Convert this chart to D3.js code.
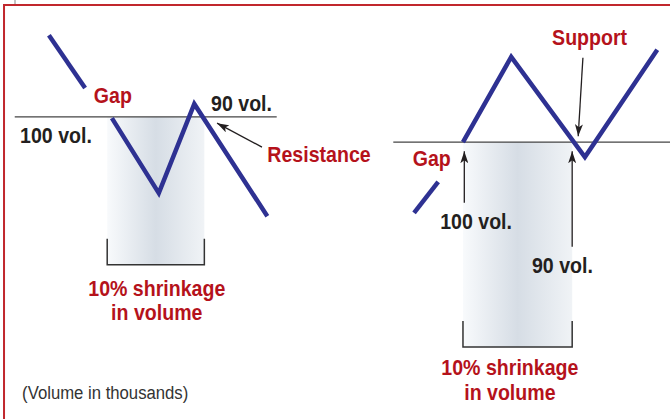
<!DOCTYPE html>
<html>
<head>
<meta charset="utf-8">
<script src="https://cdn.jsdelivr.net/npm/d3@7"></script>
<style>
  body { margin: 0; background: #fff; }
  svg { display: block; }
  .lbl { font-family: "Liberation Sans", Arial, sans-serif; font-weight: bold; }
  .red { fill: #b5121b; }
  .blk { fill: #231f20; }
  .note { font-family: "Liberation Sans", Arial, sans-serif; font-weight: normal; fill: #333; }
</style>
</head>
<body>
<div id="chart"></div>
<script>
// positions are in percent of the plate (x: left->right, y: bottom->top)
const leftGapLine = [[7.3, 91.6], [12.7, 79.0]];
const leftPattern = [[16.7, 71.8], [23.7, 53.9], [29.0, 75.2], [39.9, 48.4]];
const rightGapLine = [[61.8, 49.2], [65.4, 56.6]];
const rightPattern = [[69.1, 66.1], [76.3, 86.4], [87.3, 62.5], [98.1, 88.1]];

// horizontal levels: [x0, x1, y]
const levels = [[2.2, 41.3, 72.1], [58.7, 100, 66.1]];

// volume bands: [x0, x1, yTop, yBottom, bracketTop]
const bands = [[16.0, 30.5, 72.1, 36.8, 43.0], [69.1, 85.4, 66.1, 17.2, 23.4]];

// arrows: [fromX, fromY, toX, toY]
const arrows = [
    [39.1, 64.9, 32.4, 70.6],
    [87.0, 86.2, 86.3, 67.5],
    [69.3, 51.6, 69.3, 63.9],
    [85.4, 41.1, 85.4, 63.9]
];

// labels: [text, x, y, anchor, colour]
const labels = [
    ["Gap", 14.0, 75.4, "start", "red"],
    ["90 vol.", 31.5, 73.5, "start", "blk"],
    ["100 vol.", 3.0, 65.9, "start", "blk"],
    ["Resistance", 39.9, 61.3, "start", "red"],
    ["10% shrinkage", 23.4, 29.4, "middle", "red"],
    ["in volume", 23.4, 23.6, "middle", "red"],
    ["Gap", 61.6, 60.4, "start", "red"],
    ["Support", 82.4, 89.3, "start", "red"],
    ["100 vol.", 65.7, 45.3, "start", "blk"],
    ["90 vol.", 79.4, 34.8, "start", "blk"],
    ["10% shrinkage", 76.1, 10.5, "middle", "red"],
    ["in volume", 76.1, 4.5, "middle", "red"]
];
const footnote = ["(Volume in thousands)", 3.3, 4.8];

const width = 670, height = 419;
const condense = 0.89; // the original face is a condensed grotesque

const x = d3.scaleLinear().domain([0, 100]).range([0, width]);
const y = d3.scaleLinear().domain([0, 100]).range([height, 0]);

const svg = d3.select("#chart")
    .append("svg")
    .attr("width", width)
    .attr("height", height);

const defs = svg.append("defs");

const grad = defs.append("linearGradient")
    .attr("id", "volShade")
    .attr("x1", "0%").attr("x2", "100%")
    .attr("y1", "0%").attr("y2", "0%");
grad.append("stop").attr("offset", "0%").attr("stop-color", "#f8fafc");
grad.append("stop").attr("offset", "50%").attr("stop-color", "#d6dde5");
grad.append("stop").attr("offset", "100%").attr("stop-color", "#f0f3f6");

defs.append("marker")
    .attr("id", "head")
    .attr("viewBox", "0 0 12 8")
    .attr("refX", 12).attr("refY", 4)
    .attr("markerWidth", 12).attr("markerHeight", 8)
    .attr("markerUnits", "userSpaceOnUse")
    .attr("orient", "auto")
    .append("path")
    .attr("d", "M0,0 L12,4 L0,8 L3,4 Z")
    .attr("fill", "#231f20");

// frame
svg.append("line")
    .attr("x1", 15).attr("x2", 15).attr("y1", 0).attr("y2", 5)
    .attr("stroke", "#888").attr("stroke-width", 1);
svg.append("path")
    .attr("d", `M${x(0.6)},${height} V5 H${width}`)
    .attr("fill", "none")
    .attr("stroke", "#c1272d")
    .attr("stroke-width", 2);

// volume bands
svg.selectAll(".band")
    .data(bands)
    .enter().append("rect")
    .attr("class", "band")
    .attr("x", d => x(d[0]))
    .attr("width", d => x(d[1]) - x(d[0]))
    .attr("y", d => y(d[2]))
    .attr("height", d => y(d[3]) - y(d[2]))
    .attr("fill", "url(#volShade)");

svg.selectAll(".bracket")
    .data(bands)
    .enter().append("path")
    .attr("class", "bracket")
    .attr("d", d => `M${x(d[0])},${y(d[4])} V${y(d[3])} H${x(d[1])} V${y(d[4])}`)
    .attr("fill", "none")
    .attr("stroke", "#333")
    .attr("stroke-width", 1.5);

// levels
svg.selectAll(".level")
    .data(levels)
    .enter().append("line")
    .attr("class", "level")
    .attr("x1", d => x(d[0]))
    .attr("x2", d => x(d[1]))
    .attr("y1", d => y(d[2]))
    .attr("y2", d => y(d[2]))
    .attr("stroke", "#444")
    .attr("stroke-width", 1.2);

// price lines
const line = d3.line().x(d => x(d[0])).y(d => y(d[1]));
svg.selectAll(".price")
    .data([leftGapLine, leftPattern, rightGapLine, rightPattern])
    .enter().append("path")
    .attr("class", "price")
    .attr("d", line)
    .attr("fill", "none")
    .attr("stroke", "#2e3192")
    .attr("stroke-width", 4.5)
    .attr("stroke-linejoin", "miter");

// arrows
svg.selectAll(".arrow")
    .data(arrows)
    .enter().append("line")
    .attr("class", "arrow")
    .attr("x1", d => x(d[0]))
    .attr("y1", d => y(d[1]))
    .attr("x2", d => x(d[2]))
    .attr("y2", d => y(d[3]))
    .attr("stroke", "#231f20")
    .attr("stroke-width", 1.3)
    .attr("marker-end", "url(#head)");

// labels, squeezed horizontally to mimic the condensed face
svg.selectAll(".lblg")
    .data(labels)
    .enter().append("g")
    .attr("class", "lblg")
    .attr("transform", d => `translate(${x(d[1])},${y(d[2])}) scale(${condense},1)`)
    .append("text")
    .attr("class", d => "lbl " + d[4])
    .attr("text-anchor", d => d[3])
    .style("font-size", "22px")
    .text(d => d[0]);

svg.append("g")
    .attr("transform", `translate(${x(footnote[1])},${y(footnote[2])}) scale(0.88,1)`)
    .append("text")
    .attr("class", "note")
    .style("font-size", "19px")
    .text(footnote[0]);
</script>
</body>
</html>
